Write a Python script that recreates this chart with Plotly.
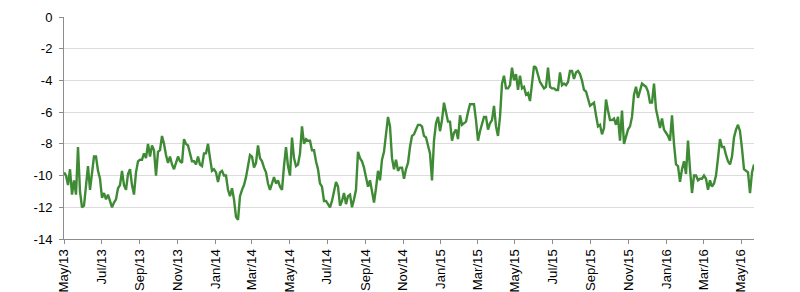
import pandas as pd
import plotly.graph_objects as go

start_date = "2013-05-01"
end_date = "2016-05-22"

values = [
    -9.8, -10.0, -10.6, -9.6, -11.2, -10.3, -11.2, -8.2, -11.0, -12.0,
    -11.9, -10.4, -9.4, -10.9, -9.8, -8.8, -8.8, -9.7, -10.2, -11.4,
    -11.1, -11.5, -11.2, -11.6, -12.0, -11.7, -11.5, -10.8, -10.6, -9.7,
    -10.6, -10.9, -9.9, -9.6, -10.6, -11.2, -9.8, -9.1, -9.0, -9.0,
    -8.6, -8.9, -8.0, -8.8, -8.1, -8.4, -10.0, -8.5, -8.4,
    -7.5, -8.0, -8.7, -9.2, -8.8, -9.3, -9.6, -9.2, -8.8, -9.1,
    -9.2, -7.7, -8.0, -8.1, -8.6, -9.1, -9.1, -9.3, -8.8, -9.3,
    -9.4, -8.6, -8.6, -8.0, -8.9, -9.7, -9.6, -9.8, -10.4, -9.8,
    -9.7, -10.0, -10.0, -10.9, -11.3, -10.8, -11.5, -12.6, -12.8, -11.3,
    -10.9, -10.6, -10.1, -9.5, -8.7, -8.8, -9.5, -9.2, -8.1, -8.9,
    -9.1, -9.5,
    -9.8, -10.5, -10.9, -10.5, -10.1, -10.5, -10.3, -10.7, -10.9, -9.4,
    -8.2, -9.4, -10.0, -7.6, -8.9, -9.4, -9.3, -8.6, -6.9, -8.0,
    -7.7, -7.8, -7.8, -8.4, -8.4, -9.1, -9.6, -10.5, -10.7, -11.6,
    -11.6, -11.8, -12.0, -11.6, -10.9, -10.4, -10.7, -11.9, -11.6, -11.1,
    -11.8, -11.3, -11.2, -12.0, -11.5, -10.9, -8.5, -8.9, -9.1, -9.5,
    -10.1, -10.7, -10.3,
    -11.1, -11.7, -10.8, -9.7, -10.3, -9.0, -8.5, -7.3, -6.3, -6.9,
    -8.9, -9.6, -9.0, -9.7, -9.5, -9.5, -10.2, -9.6, -9.2, -8.2,
    -7.5, -7.4, -7.1, -6.8, -6.8, -6.9, -7.5, -7.6, -8.1, -8.6,
    -10.3, -7.8, -6.7, -6.3, -7.2, -6.5, -5.4, -6.1, -6.6, -6.6,
    -7.8, -7.3, -7.1, -7.7, -6.2, -6.8, -6.7, -6.6, -6.0, -5.5,
    -5.5, -5.5, -6.5, -7.8, -7.2, -6.7, -6.3, -6.3, -7.1,
    -6.7, -6.5, -5.6, -6.9, -7.5, -6.3, -4.2, -3.7, -4.5, -4.5,
    -4.3, -3.2, -4.0, -3.6, -4.6, -3.7, -4.5, -4.4, -4.9, -4.8,
    -5.3, -4.1, -3.1, -3.2, -3.7, -4.1, -4.3, -4.5, -4.4, -3.2,
    -4.4, -4.5, -4.5, -4.6, -4.6, -3.5, -4.3, -4.2, -4.3, -4.1,
    -3.4, -3.4, -3.9, -3.5, -3.4, -3.6, -4.0, -4.6, -4.7, -5.2,
    -5.6, -5.5, -5.4, -6.2, -6.9, -6.8, -7.4, -7.0, -5.2, -5.9,
    -6.5, -6.5, -6.4, -6.8, -6.3, -7.8,
    -5.9, -8.0, -7.5, -7.1, -6.9, -6.3, -4.9, -4.4, -5.1, -4.6,
    -4.2, -4.3, -4.4, -4.7, -5.4, -5.4, -4.2, -5.8, -6.4, -7.0,
    -6.4, -7.1, -7.3, -7.5, -7.8, -6.2, -8.0, -9.3, -9.4, -10.4,
    -9.6, -9.1, -9.9, -7.8, -9.6, -11.1, -10.0, -10.0, -10.3, -10.2,
    -10.2, -10.0, -10.2, -10.9, -10.3, -10.7, -10.5, -10.0, -8.9, -7.7,
    -8.2, -8.2, -8.7, -9.1, -9.3, -8.8, -7.6, -7.1, -6.8, -7.2,
    -8.3, -9.6, -9.7, -9.8, -11.1, -9.8, -9.3,
]

y_ticks = [0, -2, -4, -6, -8, -10, -12, -14]
y_tick_labels = ["0", "-2", "-4", "-6", "-8", "-10", "-12", "-14"]

dates = pd.date_range(start_date, end_date, periods=len(values))

fig = go.Figure()
fig.add_trace(go.Scatter(
    x=dates, y=values, mode="lines",
    line=dict(color="#3f8a35", width=2.4),
    hoverinfo="skip", showlegend=False,
))

y_font = dict(family="Liberation Sans, Arial, sans-serif", size=13, color="#000000")
x_font = dict(family="Liberation Sans, Arial, sans-serif", size=13.2, color="#000000")

fig.update_layout(
    width=800, height=292, autosize=False,
    margin=dict(l=64, r=46, t=17, b=53, pad=0),
    paper_bgcolor="white", plot_bgcolor="white",
    font=y_font,
    xaxis=dict(
        type="date", range=[dates[0], dates[-1]],
        tick0="2013-05-01", dtick="M2", tickformat="%b/%y",
        tickangle=-90, tickfont=x_font,
        showgrid=False, zeroline=False,
        showline=True, linecolor="#8c8c8c", linewidth=1,
        ticks="outside", ticklen=4, tickcolor="#8c8c8c",
        automargin=False,
    ),
    yaxis=dict(
        range=[-14, 0], tickvals=y_ticks, ticktext=y_tick_labels,
        tickfont=y_font, ticklabelstandoff=4,
        showgrid=True, gridcolor="#dcdcdc", gridwidth=1,
        zeroline=False,
        showline=True, linecolor="#8c8c8c", linewidth=1,
        ticks="outside", ticklen=4, tickcolor="#8c8c8c",
        automargin=False,
    ),
)

fig.write_html("out.html")
